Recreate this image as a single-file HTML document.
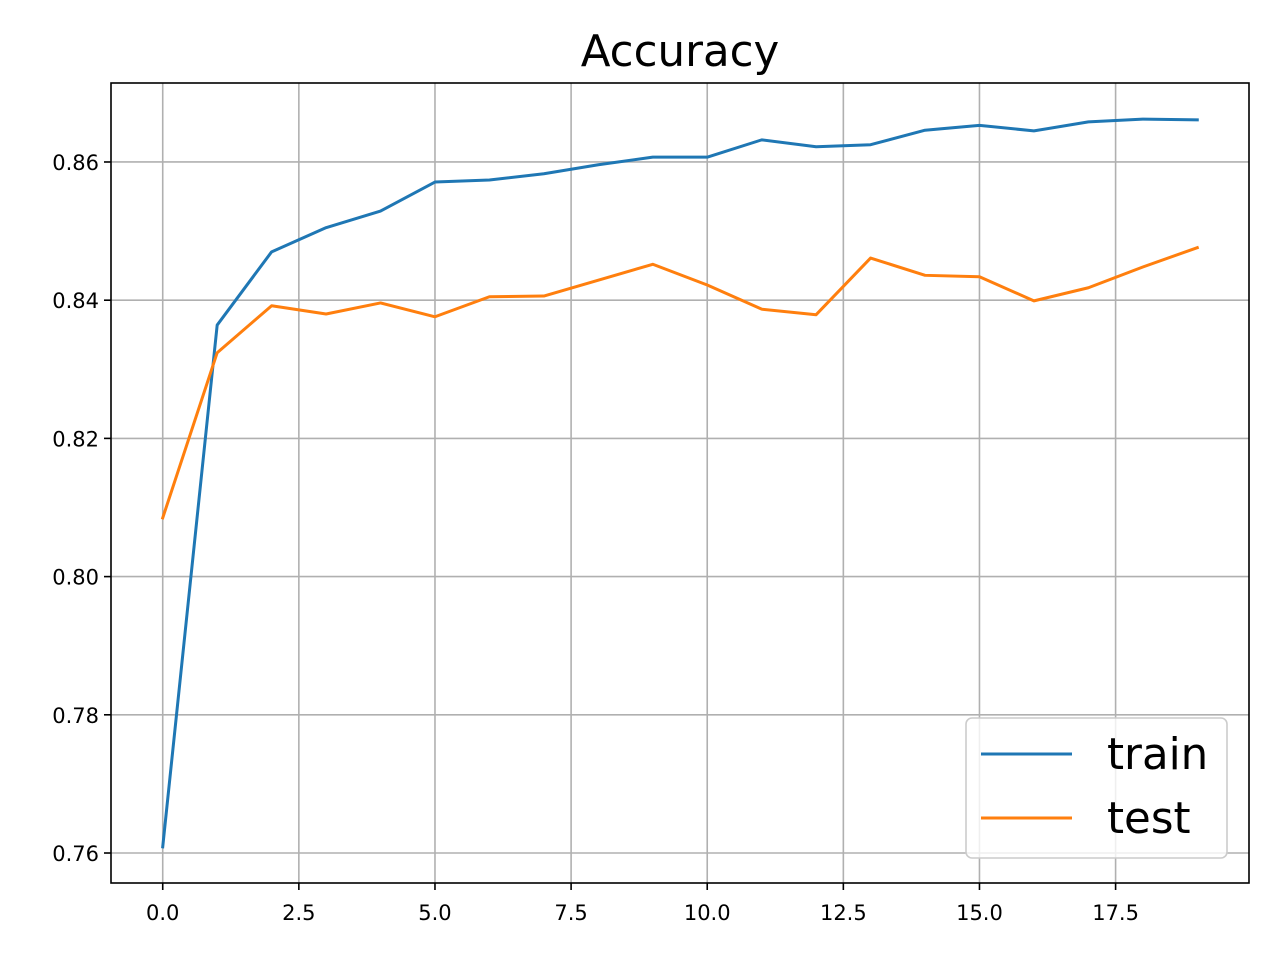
<!DOCTYPE html>
<html><head><meta charset="utf-8"><style>
html,body{margin:0;padding:0;background:#fff;}
svg text{font-family:"DejaVu Sans","Liberation Sans",sans-serif;}
</style></head><body>
<svg id="chart" width="1280" height="960" viewBox="0 0 1280 960" xmlns="http://www.w3.org/2000/svg">
<rect width="1280" height="960" fill="#fff"/>
<text x="680" y="66" font-size="43.5" text-anchor="middle">Accuracy</text>
<g id="grid"></g>
<g id="ticks"></g>
<g id="series"></g>
<rect x="111" y="83" width="1138" height="800" fill="none" stroke="#000" stroke-width="1.6"/>
<g>
<rect x="966" y="718" width="261" height="140" rx="6" fill="#fff" fill-opacity="0.8" stroke="#ccc" stroke-width="1.6"/>
<line x1="981" y1="754" x2="1072" y2="754" stroke="#1f77b4" stroke-width="3"/>
<text x="1107" y="769" font-size="43.5">train</text>
<line x1="981" y1="818" x2="1072" y2="818" stroke="#ff7f0e" stroke-width="3"/>
<text x="1107" y="833" font-size="43.5">test</text>
</g>
</svg>
<script>
const epochs = [0,1,2,3,4,5,6,7,8,9,10,11,12,13,14,15,16,17,18,19];
const trainAcc = [0.7609,0.8364,0.8470,0.8505,0.8529,0.8571,0.8574,0.8583,0.8596,0.8607,0.8607,0.8632,0.8622,0.8625,0.8646,0.8653,0.8645,0.8658,0.8662,0.8661];
const testAcc = [0.8085,0.8324,0.8392,0.8380,0.8396,0.8376,0.8405,0.8406,0.8429,0.8452,0.8422,0.8387,0.8379,0.8461,0.8436,0.8434,0.8399,0.8418,0.8448,0.8476];
const xTicks = [0,2.5,5,7.5,10,12.5,15,17.5];
const xTickLabels = ["0.0","2.5","5.0","7.5","10.0","12.5","15.0","17.5"];
const yTicks = [0.76,0.78,0.80,0.82,0.84,0.86];
const yTickLabels = ["0.76","0.78","0.80","0.82","0.84","0.86"];

const NS="http://www.w3.org/2000/svg";
const L=111,R=1249,T=83,B=883;
const xMin=-0.95,xMax=19.95,yMin=0.75566,yMax=0.87143;
function sx(v){return L+(v-xMin)/(xMax-xMin)*(R-L);}
function sy(v){return B-(v-yMin)/(yMax-yMin)*(B-T);}
function mk(tag,attrs,parent){const e=document.createElementNS(NS,tag);for(const k in attrs)e.setAttribute(k,attrs[k]);parent.appendChild(e);return e;}
const grid=document.getElementById('grid'),ticks=document.getElementById('ticks'),series=document.getElementById('series');
xTicks.forEach((v,i)=>{
  const x=sx(v);
  const g=mk('line',{x1:x,y1:T,x2:x,y2:B,stroke:'#b0b0b0','stroke-width':1.6},grid);
  
  
  mk('line',{x1:x,y1:B,x2:x,y2:B+7,stroke:'#000','stroke-width':1.6},ticks);
  const t=mk('text',{x:x,y:B+37,'font-size':21,'text-anchor':'middle'},ticks);
  t.textContent=xTickLabels[i];
  
  
});
yTicks.forEach((v,i)=>{
  const y=sy(v);
  const g=mk('line',{x1:L,y1:y,x2:R,y2:y,stroke:'#b0b0b0','stroke-width':1.6},grid);
  
  
  mk('line',{x1:L-7,y1:y,x2:L,y2:y,stroke:'#000','stroke-width':1.6},ticks);
  const t=mk('text',{x:L-12,y:y+8,'font-size':21,'text-anchor':'end'},ticks);
  t.textContent=yTickLabels[i];
  
  
});
function line(vals,color,name){
  const p=mk('polyline',{points:vals.map((v,i)=>sx(epochs[i])+','+sy(v)).join(' '),fill:'none',stroke:color,'stroke-width':3,'stroke-linejoin':'round','stroke-linecap':'square'},series);
  
  
}
line(trainAcc,'#1f77b4','train-line');
line(testAcc,'#ff7f0e','test-line');
</script>
</body></html>
